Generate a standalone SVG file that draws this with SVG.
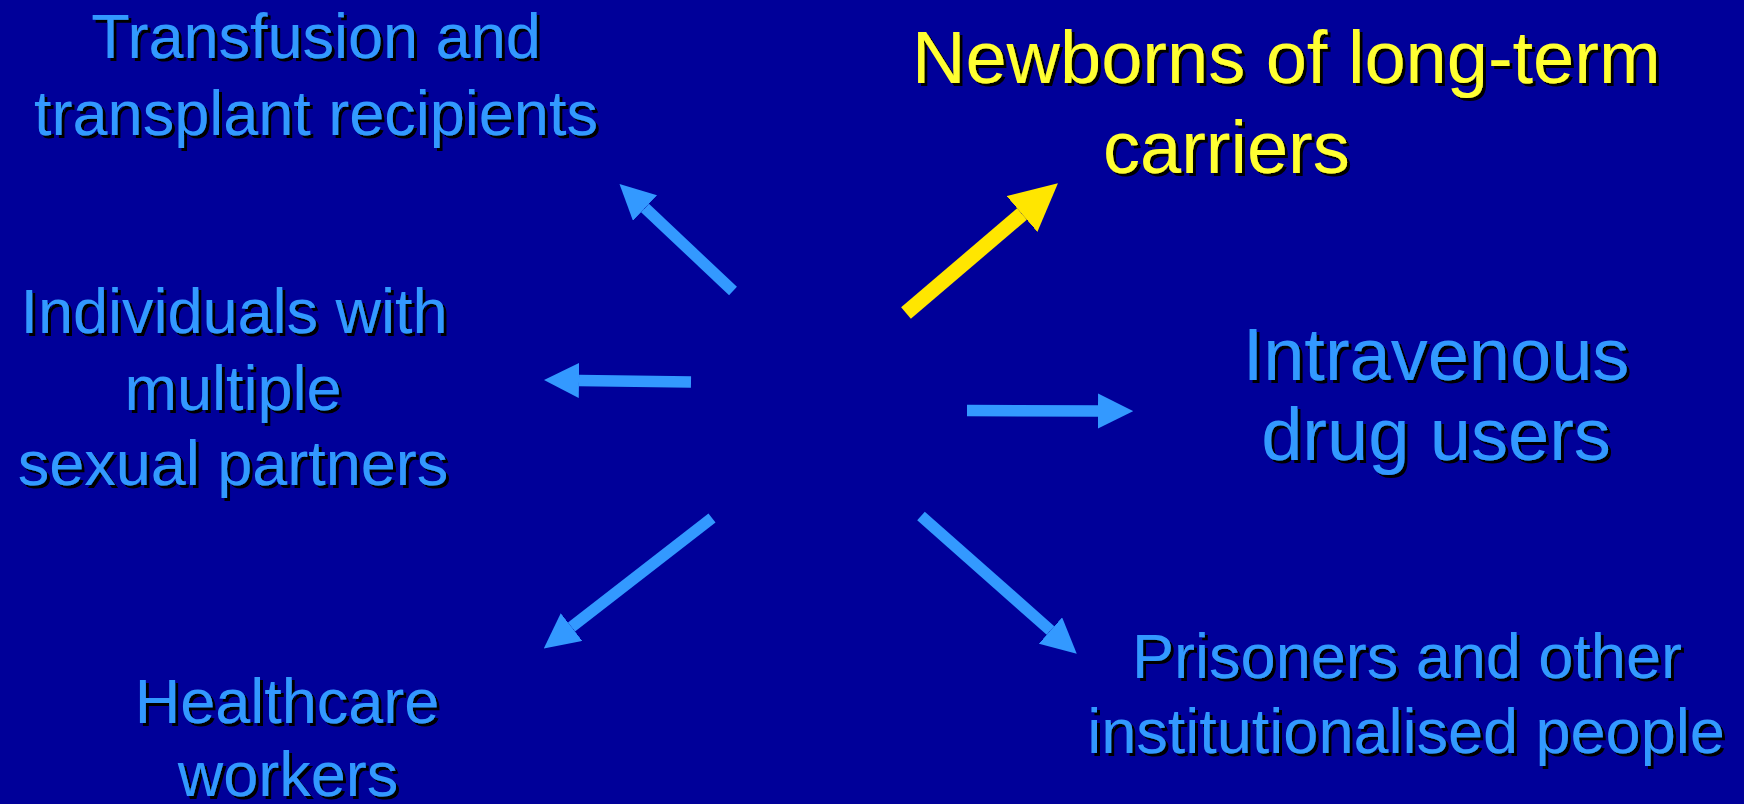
<svg xmlns="http://www.w3.org/2000/svg" width="1744" height="804" viewBox="0 0 1744 804">
<style>
.t{font-family:"Liberation Sans",Arial,sans-serif;font-size:63px;fill:#3399FF;text-anchor:middle;filter:url(#sh)}
.big{font-size:74px}
.y{fill:#FFFF33;font-size:74px;text-anchor:start}
.a{stroke:#3399FF;stroke-width:11.5;fill:none;marker-end:url(#hb)}
.ay{stroke:#FFE600;stroke-width:15;fill:none;marker-end:url(#hy)}
</style>
<defs>
<filter id="sh" x="-5%" y="-20%" width="110%" height="140%">
<feDropShadow dx="3" dy="3" stdDeviation="0" flood-color="#000000" flood-opacity="1"/>
</filter>
<marker id="hb" viewBox="0 0 10 10" refX="0" refY="5" markerWidth="3.05" markerHeight="3.05" orient="auto" markerUnits="strokeWidth">
<path d="M0,0 L10,5 L0,10 z" fill="#3399FF"/>
</marker>
<marker id="hy" viewBox="0 0 10 10" refX="0" refY="5" markerWidth="3.15" markerHeight="3.15" orient="auto" markerUnits="strokeWidth">
<path d="M0,0 L10,5 L0,10 z" fill="#FFE600"/>
</marker>
</defs>
<rect width="1744" height="804" fill="#000099"/>
<g id="connectors">
<line class="a" x1="733" y1="291" x2="645" y2="208"/>
<line class="ay" x1="906" y1="313" x2="1022" y2="214"/>
<line class="a" x1="691" y1="382" x2="579" y2="380.5"/>
<line class="a" x1="967" y1="410.5" x2="1098" y2="411"/>
<line class="a" x1="712" y1="518" x2="571.5" y2="627"/>
<line class="a" x1="921" y1="516" x2="1050.5" y2="630.5"/>
</g>
<g id="transfusion">
<text class="t" x="316" y="58">Transfusion and</text>
<text class="t" x="316" y="135">transplant recipients</text>
</g>
<g id="newborns">
<text class="t y" x="912" y="83">Newborns of long-term</text>
<text class="t y" x="1103" y="173">carriers</text>
</g>
<g id="individuals">
<text class="t" x="234" y="333">Individuals with</text>
<text class="t" x="233" y="410">multiple</text>
<text class="t" x="233" y="485">sexual partners</text>
</g>
<g id="ivdu">
<text class="t big" x="1436" y="380">Intravenous</text>
<text class="t big" x="1436" y="460">drug users</text>
</g>
<g id="healthcare">
<text class="t" x="287" y="723">Healthcare</text>
<text class="t" x="288" y="796">workers</text>
</g>
<g id="prisoners">
<text class="t" x="1407" y="678">Prisoners and other</text>
<text class="t" x="1406" y="753">institutionalised people</text>
</g>
</svg>
